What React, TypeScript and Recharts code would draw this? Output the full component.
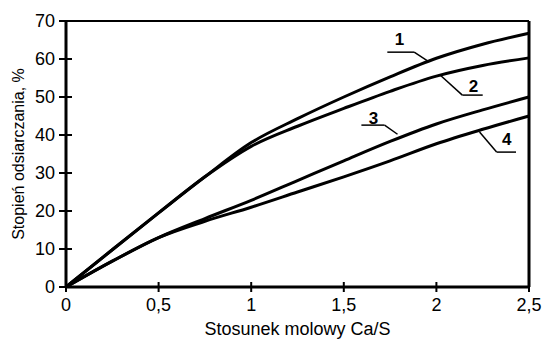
import {
  LineChart,
  Line,
  XAxis,
  YAxis,
  ReferenceLine,
  ReferenceDot,
} from "recharts";

const ratios = [0, 0.25, 0.5, 0.75, 1, 1.25, 1.5, 1.75, 2, 2.25, 2.5];
const curve1 = [0, 9.8, 19.5, 29, 38, 44.3, 50, 55.3, 60.2, 63.9, 66.8];
const curve2 = [0, 9.8, 19.5, 29, 37, 42.3, 47, 51.5, 55.5, 58.3, 60.3];
const curve3 = [0, 6.8, 13, 18, 22.8, 28, 33.2, 38.3, 42.9, 46.6, 50];
const curve4 = [0, 6.8, 13, 17.3, 21, 25, 29, 33.2, 37.7, 41.5, 45];

const xTicks = [0, 0.5, 1, 1.5, 2, 2.5];
const yTicks = [0, 10, 20, 30, 40, 50, 60, 70];

// curve labels with their leader lines (data coordinates)
const curveLabels = [
  { name: "1", at: [1.8, 65.3], leader: [[1.735, 61.8], [1.88, 61.8], [1.95, 59.6]] },
  { name: "2", at: [2.2, 53.0], leader: [[2.02, 55.8], [2.14, 50.5], [2.25, 50.5]] },
  { name: "3", at: [1.66, 44.5], leader: [[1.595, 42.6], [1.72, 42.6], [1.79, 40.2]] },
  { name: "4", at: [2.38, 39.0], leader: [[2.233, 40.8], [2.325, 35.5], [2.43, 35.5]] },
];

const data = ratios.map((r, i) => ({
  r,
  c1: curve1[i],
  c2: curve2[i],
  c3: curve3[i],
  c4: curve4[i],
}));

const FONT = "'Liberation Sans', Arial, sans-serif";

function XTick({ x, y, payload }: any) {
  return (
    <g>
      <line x1={x} x2={x} y1={y - 5} y2={y + 5} stroke="#000" strokeWidth={2} />
      <text x={x} y={y + 24} textAnchor="middle" fontSize={18} fontFamily={FONT} fill="#000">
        {String(payload.value).replace(".", ",")}
      </text>
    </g>
  );
}

function YTick({ x, y, payload }: any) {
  return (
    <g>
      <line x1={x - 7} x2={x + 6} y1={y} y2={y} stroke="#000" strokeWidth={2} />
      <text x={x - 11} y={y + 6} textAnchor="end" fontSize={18} fontFamily={FONT} fill="#000">
        {payload.value}
      </text>
    </g>
  );
}

export default function App() {
  return (
    <div style={{ position: "absolute", left: 0, top: 0, background: "#fff" }}>
      <LineChart
        width={544}
        height={340}
        data={data}
        margin={{ top: 21, right: 15, left: 0, bottom: 0 }}
      >
        <XAxis
          dataKey="r"
          type="number"
          domain={[0, 2.5]}
          ticks={xTicks}
          tickSize={0}
          tickMargin={0}
          tickLine={false}
          tick={<XTick />}
          height={53}
          axisLine={{ stroke: "#000", strokeWidth: 3 }}
          label={{
            value: "Stosunek molowy Ca/S",
            position: "insideBottom",
            offset: 5,
            fontSize: 18,
            fontFamily: FONT,
            fill: "#000",
          }}
        />
        <YAxis
          type="number"
          domain={[0, 70]}
          ticks={yTicks}
          tickSize={0}
          tickMargin={0}
          tickLine={false}
          tick={<YTick />}
          width={66}
          axisLine={{ stroke: "#000", strokeWidth: 3 }}
          label={{
            value: "Stopień odsiarczania, %",
            angle: -90,
            position: "insideLeft",
            offset: 18,
            fontSize: 16,
            fontFamily: FONT,
            fill: "#000",
            style: { textAnchor: "middle" },
          }}
        />
        <ReferenceLine y={70} stroke="#000" strokeWidth={2} />
        <ReferenceLine x={2.5} stroke="#000" strokeWidth={3} />
        <Line dataKey="c1" type="monotone" stroke="#000" strokeWidth={3} dot={false} isAnimationActive={false} />
        <Line dataKey="c2" type="monotone" stroke="#000" strokeWidth={3} dot={false} isAnimationActive={false} />
        <Line dataKey="c3" type="monotone" stroke="#000" strokeWidth={3} dot={false} isAnimationActive={false} />
        <Line dataKey="c4" type="monotone" stroke="#000" strokeWidth={3} dot={false} isAnimationActive={false} />
        {curveLabels.map((c) =>
          c.leader.slice(1).map((p, i) => (
            <ReferenceLine
              key={c.name + i}
              segment={[
                { x: c.leader[i][0], y: c.leader[i][1] },
                { x: p[0], y: p[1] },
              ]}
              stroke="#000"
              strokeWidth={1.5}
            />
          ))
        )}
        {curveLabels.map((c) => (
          <ReferenceDot
            key={c.name}
            x={c.at[0]}
            y={c.at[1]}
            r={0}
            stroke="none"
            label={{
              value: c.name,
              position: "center",
              fontSize: 17,
              fontWeight: "bold",
              fontFamily: FONT,
              fill: "#000",
            }}
          />
        ))}
      </LineChart>
    </div>
  );
}
